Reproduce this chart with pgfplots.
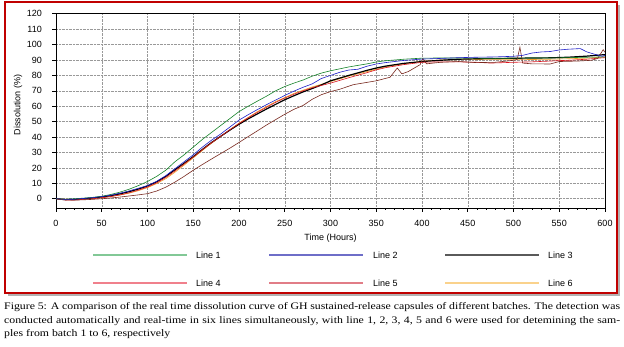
\documentclass[border=0pt]{standalone}
\usepackage{fontspec}
\setmainfont{Liberation Sans}
\newfontfamily\capfont[FakeStretch=1.18]{Liberation Serif}
\usepackage{pgfplots}
\pgfplotsset{compat=1.18}
\definecolor{frameRed}{RGB}{192,0,0}
\definecolor{cA}{RGB}{20,130,40}
\definecolor{cB}{RGB}{30,30,200}
\definecolor{cC}{RGB}{0,0,0}
\definecolor{cD}{RGB}{220,20,30}
\definecolor{cE}{RGB}{120,40,30}
\definecolor{cF}{RGB}{240,160,40}
\definecolor{lA}{RGB}{130,200,150}
\definecolor{lB}{RGB}{110,110,200}
\definecolor{lC}{RGB}{90,90,90}
\definecolor{lD}{RGB}{240,128,140}
\definecolor{lE}{RGB}{225,125,135}
\definecolor{lF}{RGB}{250,210,140}
\begin{document}
\begin{tikzpicture}[x=1pt,y=1pt]
\path[use as bounding box] (0,0) rectangle (624,347);
\fill[gray!60] (8,51) rectangle (620,342);
\filldraw[fill=white, draw=frameRed, line width=2pt] (5,54) rectangle (617,345);
\begin{axis}[
  at={(56pt,139pt)}, anchor=south west,
  scale only axis, width=549pt, height=194.25pt,
  xmin=0, xmax=600, ymin=-6, ymax=120,
  xtick={0,50,...,600}, ytick={0,10,...,120},
  minor x tick num=4,
  tick pos=left, tick align=outside,
  major tick length=4pt, minor tick length=2pt,
  every tick/.style={black, line width=0.6pt},
  axis line style={black, line width=0.8pt},
  grid=major,
  major grid style={densely dotted, gray!80, line width=0.5pt},
  /pgf/number format/assume math mode=true,
  tick label style={font=\fontsize{9}{10}\selectfont},
  xticklabel style={anchor=center, yshift=-11pt, inner sep=0pt},
  yticklabel style={anchor=east, xshift=-10pt, inner sep=0pt},
  xlabel={Time (Hours)},
  ylabel={Dissolution (\%)},
  label style={font=\fontsize{9}{10}\selectfont},
  xlabel style={at={(axis description cs:0.5,-0.154)}, anchor=center},
  ylabel style={at={(axis description cs:-0.069,0.53)}, anchor=center},
]
% Line 6
\addplot[cF, line width=0.6pt] coordinates {
(0,0) (20,-0.5) (40,0.2) (50,0.8) (60,1.5) (70,2.4) (80,3.6) (90,5.2) (100,7.2) (110,9.8) (120,13) (130,17.2) (140,21.8) (150,26.5) (160,31.3) (170,36) (180,40.5) (190,44.8) (200,49) (220,56.5) (240,63) (260,68.3) (280,72.5) (300,76) (320,79.5) (340,82.5) (360,85.5) (380,87.5) (400,89.2) (420,90) (440,90.2) (460,90.3) (480,90.5) (500,90.5) (520,90.3) (540,90.5) (560,90.8) (580,91.2) (600,92)};
% Line 3
\addplot[cC, line width=1.2pt] coordinates {
(0,0) (10,-0.6) (20,-0.5) (30,0) (40,0.5) (50,1.2) (60,2) (70,3.2) (80,4.6) (90,6.3) (100,8.3) (110,11) (120,14.5) (130,18.8) (140,23) (150,27.3) (160,32) (170,36.5) (180,40.5) (190,44.5) (200,48.3) (210,51.8) (220,55) (230,58.2) (240,61.2) (250,64.2) (260,66.8) (270,69.3) (280,71.5) (290,73.8) (300,76.5) (320,80) (340,83.3) (350,84.8) (360,86) (380,87.8) (400,89) (420,89.8) (440,90.5) (460,90.8) (480,91) (500,91.1) (520,91.3) (540,91.4) (560,91.8) (580,92.5) (600,93.5)};
% Line 4
\addplot[cD, line width=0.6pt] coordinates {
(0,0) (10,-0.8) (20,-0.8) (30,-0.4) (40,0) (50,0.6) (60,1.4) (70,2.5) (80,3.9) (90,5.6) (100,7.6) (110,10.3) (120,13.8) (130,18) (140,22.5) (150,27) (160,31.8) (170,36.3) (180,40.5) (190,44.7) (200,48.8) (210,52.5) (220,56) (230,59.3) (240,62.5) (250,65.3) (260,67.8) (270,70) (280,72) (290,73.5) (300,75) (320,78.5) (340,81.8) (350,83.6) (360,85) (380,87) (400,88.5) (420,88.8) (440,88.8) (460,88.5) (475,88) (490,88.3) (500,88.5) (520,88.8) (540,89.3) (550,89.6) (560,89.8) (580,90.5) (595,91.3) (600,91.5)};
% Line 5
\addplot[cE, line width=0.6pt] coordinates {
(0,0) (10,-0.6) (20,-0.9) (30,-0.7) (40,-0.4) (50,0) (60,0.5) (70,1.1) (80,1.8) (90,2.5) (100,3.3) (110,5) (120,7.5) (130,10.8) (140,14.5) (150,18.5) (160,22.2) (170,25.8) (180,29.3) (190,32.8) (200,36.5) (210,40.3) (220,44) (230,47.8) (240,51.3) (250,54.8) (260,58) (270,60.5) (280,64.5) (290,67.5) (300,69.5) (310,71) (325,74) (340,75.5) (350,76.5) (365,78.8) (373,84.8) (378,81) (385,82.5) (398,87) (401,91) (405,87.5) (420,88.5) (440,89) (460,88.3) (480,88.5) (500,89.8) (504,90.3) (507,98.3) (510,88) (520,87.5) (540,87.4) (550,89) (570,89.3) (585,89.8) (592,91) (598,96.7) (600,95)};
% Line 1
\addplot[cA, line width=0.6pt] coordinates {
(0,0) (10,-0.3) (20,0) (30,0.4) (40,0.9) (50,1.6) (60,2.8) (70,4.3) (80,6.2) (90,8.5) (100,11.2) (110,14.5) (120,18.5) (130,24) (140,28.5) (150,33.5) (160,38.5) (170,43) (180,47.5) (190,52) (200,56.5) (210,60) (220,63.3) (230,66.5) (240,70) (250,72.8) (260,75) (270,77) (280,79.5) (290,81.5) (300,83) (320,85.5) (340,87.5) (350,88.7) (360,89.5) (380,90.5) (400,91.2) (420,91.3) (440,91.3) (460,91.2) (480,91) (500,91.2) (520,91.3) (540,91.3) (560,91.5) (580,91.8) (600,92)};
% Line 2
\addplot[cB, line width=0.6pt] coordinates {
(0,0) (10,-0.4) (20,-0.3) (30,0.2) (40,0.7) (50,1.4) (60,2.3) (70,3.6) (80,5.1) (90,6.8) (100,8.5) (110,11.3) (120,15) (130,19.5) (140,24) (150,28.5) (160,33.5) (170,38) (180,42) (190,46.5) (200,51) (210,54.5) (220,57.8) (230,61) (240,64) (250,67) (260,69.8) (270,72.3) (280,74.5) (290,78) (300,80) (310,82) (320,83.5) (330,84) (340,86) (350,87.4) (360,88.3) (380,89.7) (400,90.6) (420,91) (440,91.5) (460,91.8) (480,92) (500,92.4) (510,93) (520,94.5) (530,95.2) (540,95.5) (550,96.5) (560,97) (573,97.4) (580,95.3) (587,94) (597,92.4) (600,93)};
\end{axis}
% legend
\begin{scope}[line width=2.2pt]
\draw[lA] (93,92) -- (187,92);
\draw[lB] (269,92) -- (363,92);
\draw[lC] (445,92) -- (539,92);
\draw[lD] (93,64) -- (187,64);
\draw[lE] (269,64) -- (363,64);
\draw[lF] (445,64) -- (539,64);
\end{scope}
\begin{scope}[every node/.style={anchor=west, inner sep=0pt, font=\fontsize{9}{10}\selectfont}]
\node at (196,92) {Line 1};
\node at (373,92) {Line 2};
\node at (548,92) {Line 3};
\node at (196,64) {Line 4};
\node at (373,64) {Line 5};
\node at (548,64) {Line 6};
\end{scope}
\node[anchor=base west, inner sep=0pt, font=\capfont\fontsize{10}{12}\selectfont] at (4,37) {\makebox[616pt][s]{Figure 5: A comparison of the real time dissolution curve of GH sustained-release capsules of different batches. The detection was}};
\node[anchor=base west, inner sep=0pt, font=\capfont\fontsize{10}{12}\selectfont] at (4,23.5) {\makebox[616pt][s]{conducted automatically and real-time in six lines simultaneously, with line 1, 2, 3, 4, 5 and 6 were used for detemining the sam-}};
\node[anchor=base west, inner sep=0pt, font=\capfont\fontsize{10}{12}\selectfont] at (4,10) {ples from batch 1 to 6, respectively};
\end{tikzpicture}
\end{document}
